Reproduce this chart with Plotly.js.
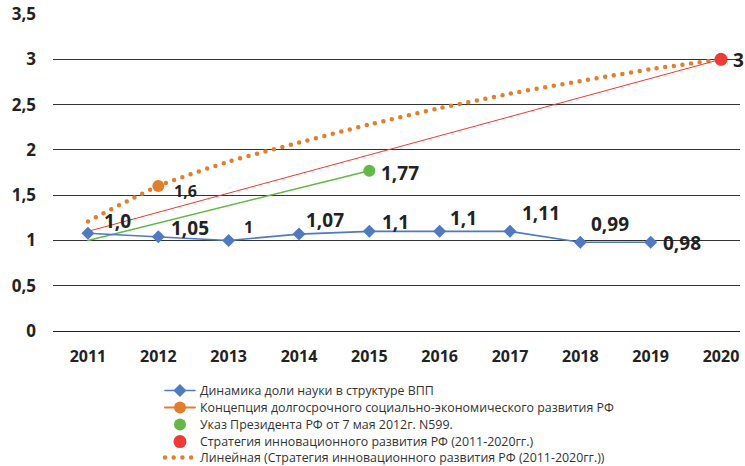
<!DOCTYPE html>
<html>
<head>
<meta charset="utf-8">
<script src="https://cdn.plot.ly/plotly-3.0.1.min.js"></script>
<style>
html,body{margin:0;padding:0;background:#fff;}
#chart{width:745px;height:466px;}
.js-line,.legendlines path{stroke-linecap:round;}
</style>
</head>
<body>
<div id="chart"></div>
<script>
// ---- data ----
var years = [2011, 2012, 2013, 2014, 2015, 2016, 2017, 2018, 2019, 2020];
var yearLabels = ['2011','2012','2013','2014','2015','2016','2017','2018','2019','2020'];

var scienceYears = [2011, 2012, 2013, 2014, 2015, 2016, 2017, 2018, 2019];
var scienceValues = [1.08, 1.04, 1.0, 1.07, 1.1, 1.1, 1.1, 0.98, 0.98];
var scienceLabels = ['1,0', '1,05', '1', '1,07', '1,1', '1,1', '1,11', '0,99', '0,98'];

var conceptYears = [2012];
var conceptValues = [1.6];
var conceptLabels = ['1,6'];

var decreeYears = [2011, 2015];
var decreeValues = [1.0, 1.77];
var decreeLabels = ['1,77'];

var strategyYears = [2011, 2020];
var strategyValues = [1.1, 3.0];
var strategyLabels = ['3'];

var trendValues = [1.21, 1.6, 1.87, 2.08, 2.28, 2.46, 2.62, 2.76, 2.89, 3.0];

var yTicks = [0, 0.5, 1, 1.5, 2, 2.5, 3, 3.5];

var names = [
  'Динамика доли науки в структуре ВПП',
  'Концепция долгосрочного социально-экономического развития РФ',
  'Указ Президента РФ от 7 мая 2012г. N599.',
  'Стратегия инновационного развития РФ (2011-2020гг.)',
  'Линейная (Стратегия инновационного развития РФ (2011-2020гг.))'
];

// ---- styles ----
var cBlue = '#4f79c0', cOrange = '#e37e2c', cGreen = '#63b847', cRed = '#ee3b33';
var FONT = 'Open Sans, Noto Sans, sans-serif';

var traces = [
  {x: years, y: trendValues, mode: 'lines', name: names[4], legend: 'legend5',
   line: {color: cOrange, width: 4.5, dash: '0px,8.7px', shape: 'spline', smoothing: 0.6}},
  {x: strategyYears, y: strategyValues, mode: 'lines', showlegend: false,
   line: {color: cRed, width: 1}},
  {x: decreeYears, y: decreeValues, mode: 'lines', showlegend: false,
   line: {color: cGreen, width: 1.6}},
  {x: scienceYears, y: scienceValues, mode: 'lines+markers', name: names[0], legend: 'legend',
   line: {color: cBlue, width: 1.6}, marker: {symbol: 'diamond', size: 10, color: cBlue}},
  {x: conceptYears, y: conceptValues, mode: 'lines+markers', name: names[1], legend: 'legend2',
   line: {color: cOrange, width: 2}, marker: {size: 12, color: cOrange}},
  {x: decreeYears.slice(1), y: decreeValues.slice(1), mode: 'markers', name: names[2], legend: 'legend3',
   marker: {size: 12, color: cGreen}},
  {x: strategyYears.slice(1), y: strategyValues.slice(1), mode: 'markers', name: names[3], legend: 'legend4',
   marker: {size: 13, color: cRed}}
];

// label offsets in pixels (dx, dy up) and font sizes
var sciOffsets = [[30,12],[32,9],[20,13],[26,14],[26,9],[24,13],[31,18],[30,18],[31,-1]];
var sciSizes = [19,19,16,19,19,19,19,19,19];

var annotations = [];
function addLabel(x, y, text, dx, dy, size) {
  annotations.push({x: x, y: y, xref: 'x', yref: 'y', text: text, showarrow: false,
    xshift: dx, yshift: dy, font: {family: FONT, size: size, color: '#222', weight: 700}});
}
for (var i = 0; i < scienceYears.length; i++) {
  addLabel(scienceYears[i], scienceValues[i], scienceLabels[i], sciOffsets[i][0], sciOffsets[i][1], sciSizes[i]);
}
addLabel(conceptYears[0], conceptValues[0], conceptLabels[0], 27, -5, 16);
addLabel(decreeYears[1], decreeValues[1], decreeLabels[0], 31, -2, 19);
addLabel(strategyYears[1], strategyValues[1], strategyLabels[0], 17, -1, 19);

function legendAt(py) {
  return {x: 0.1557, xanchor: 'left', y: (331 - py) / 317, yanchor: 'middle',
    bgcolor: 'rgba(0,0,0,0)', font: {family: FONT, size: 12.4, color: '#333'}};
}

var layout = {
  width: 745, height: 466,
  margin: {l: 53, r: 5, t: 14, b: 135, autoexpand: false},
  paper_bgcolor: '#fff', plot_bgcolor: '#fff',
  separators: ', ',
  font: {family: FONT, color: '#222'},
  xaxis: {range: [2010.503, 2020.27], tickvals: years, ticktext: yearLabels, automargin: false,
    showgrid: false, zeroline: false, showline: false, ticks: '',
    ticklabelstandoff: 14, tickfont: {family: FONT, size: 16, color: '#222', weight: 700}},
  yaxis: {range: [0, 3.5], tickvals: yTicks, showgrid: true, gridcolor: '#333', gridwidth: 1, automargin: false,
    zeroline: true, zerolinecolor: '#222', zerolinewidth: 1, showline: false, ticks: '',
    ticklabelstandoff: 16, tickfont: {family: FONT, size: 17, color: '#222', weight: 700}},
  legend: legendAt(391),
  legend2: legendAt(408),
  legend3: legendAt(425),
  legend4: legendAt(442),
  legend5: legendAt(458),
  annotations: annotations
};

Plotly.newPlot('chart', traces, layout, {displayModeBar: false, staticPlot: true});
</script>
</body>
</html>
